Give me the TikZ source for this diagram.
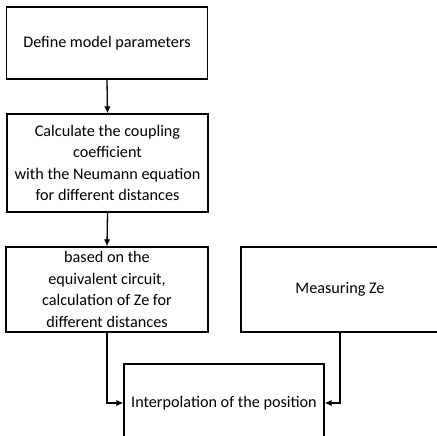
\documentclass[tikz,border=0pt]{standalone}
\usepackage{fontspec}
\setmainfont{Carlito}
\usetikzlibrary{arrows.meta}
\begin{document}
\begin{tikzpicture}[x=1pt,y=-1pt,
  box/.style={draw, line width=1.4pt, align=center, font=\fontsize{16.2}{21.5}\selectfont, inner sep=0pt},
  conn/.style={line width=1.3pt, -{Latex[length=7pt,width=6.5pt]}}]
\useasboundingbox (0,0) rectangle (437,436);
\clip (0,0) rectangle (437,436);
\node[box, minimum width=201pt, minimum height=72pt] (b1) at (107,43) {Define model parameters};
\node[box, minimum width=201pt, minimum height=98pt] (b2) at (107.5,163) {Calculate the coupling\\coefficient\\with the Neumann equation\\for different distances};
\node[box, minimum width=202pt, minimum height=85pt] (b3) at (107,289.5) {based on the\\equivalent circuit,\\calculation of Ze for\\different distances};
\node[box, minimum width=198pt, minimum height=85pt] (b4) at (340,289.5) {Measuring Ze};
\node[box, minimum width=200pt, minimum height=78pt] (b5) at (224,403) {Interpolation of the position};
\draw[conn] (b1.south) -- (b2.north);
\draw[conn] (b2.south) -- (b3.north);
\draw[conn] (b3.south) |- (b5.west);
\draw[conn] (b4.south) |- (b5.east);
\end{tikzpicture}
\end{document}
